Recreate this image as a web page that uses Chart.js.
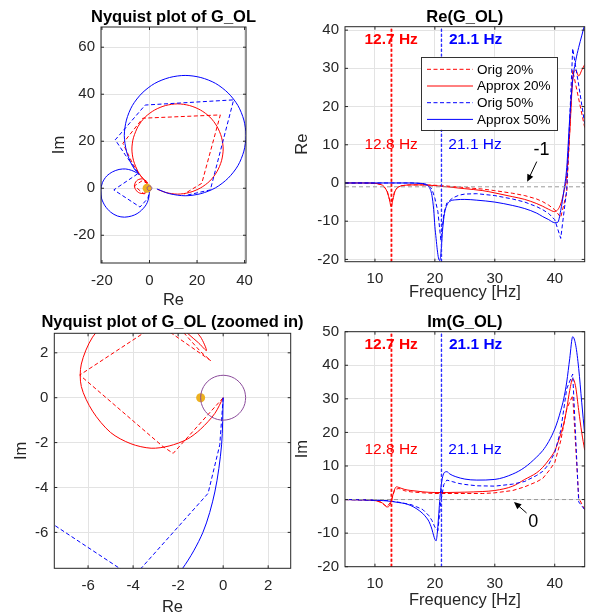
<!DOCTYPE html>
<html lang="en">
<head>
<meta charset="UTF-8">
<title>G_OL - Nyquist, Re, Im</title>
<script src="https://cdn.jsdelivr.net/npm/chart.js"></script>
<style>
  html, body { margin: 0; padding: 0; background: #fff; overflow: hidden; }
  #fig { position: relative; width: 595px; height: 614px; }
  #fig canvas { position: absolute; }
</style>
</head>
<body>
<div id="fig">
  <canvas id="nyq" width="297" height="310" style="left:0;top:0"></canvas>
  <canvas id="re" width="305" height="310" style="left:290px;top:0"></canvas>
  <canvas id="nyqZoom" width="312" height="309" style="left:0;top:305px"></canvas>
  <canvas id="im" width="305" height="309" style="left:290px;top:305px"></canvas>
</div>
<script>
// ---- axis limits and ticks ----
const nyqXLim = [-20.4, 40.6], nyqYLim = [-31.8, 68.6];
const zoomXLim = [-7.5, 3], zoomYLim = [-7.6, 2.87];
const freqLim = [5, 45];
const reLim = [-20.6, 40.9];
const imLim = [-20, 50];

const nyqXTicks = [-20, 0, 20, 40];
const nyqYTicks = [-20, 0, 20, 40, 60];
const zoomXTicks = [-6, -4, -2, 0, 2];
const zoomYTicks = [-6, -4, -2, 0, 2];
const freqTicks = [10, 20, 30, 40];
const reTicks = [-20, -10, 0, 10, 20, 30, 40];
const imTicks = [-20, -10, 0, 10, 20, 30, 40, 50];

const seriesNames = ['Orig 20%', 'Approx 20%', 'Orig 50%', 'Approx 50%'];

// resonance markers (Hz) and reference levels
const resOrig = [12.7, 21.1];
const resApprox = [12.8, 21.1];
const refRe = -1;
const refIm = 0;
const critRe = -1, critIm = 0;

// ---- frequency responses ----
const fA20 = [5, 8, 10, 11, 11.5, 12, 12.4, 12.7, 13.0, 13.3, 13.6, 14, 15, 16, 18, 20, 22, 25, 28, 30, 33, 35, 37, 38, 39, 40, 40.5, 41, 41.5, 42, 42.5, 43, 43.5, 44, 44.5, 45];
const reA20 = [0, 0, -0.1, -0.4, -0.9, -2.2, -4.2, -6.2, -4.3, -2.4, -1.5, -1.0, -0.6, -0.5, -0.5, -0.7, -1.0, -1.5, -2.0, -2.6, -3.6, -4.3, -5.4, -6.1, -6.9, -7.5, -7.0, -5.5, -2.5, 2.0, 13.0, 27.0, 29.5, 28.0, 29.5, 31.0];
const imA20 = [0, -0.1, -0.3, -0.8, -1.4, -2.2, -1.9, -0.6, 1.4, 3.1, 3.8, 3.6, 3.0, 2.7, 2.3, 2.1, 2.1, 2.2, 2.4, 2.7, 4.0, 6.0, 8.0, 9.6, 11.8, 14.5, 16.8, 19.5, 22.5, 27.0, 32.5, 36.0, 33.5, 26.5, 20.0, 14.7];

const fO20 = [5, 8, 10, 11, 12, 12.7, 13.3, 14, 15, 16, 18, 20, 22, 25, 28, 30, 33, 35, 37, 38, 39, 40, 41, 42, 43, 44, 45];
const reO20 = [0, 0, -0.1, -0.4, -1.8, -6.0, -2.0, -0.8, -0.6, -0.5, -0.5, -0.6, -0.8, -1.2, -1.6, -2.0, -2.7, -3.3, -4.2, -4.9, -5.8, -7.0, -9.0, -2.5, 29.5, 22.0, 14.5];
const imO20 = [0, -0.1, -0.3, -0.8, -2.2, -0.5, 3.0, 3.3, 2.6, 2.3, 2.0, 1.8, 1.8, 1.8, 1.8, 2.0, 2.7, 3.8, 5.3, 6.3, 8.5, 11.0, 17.5, 27.0, 31.0, 0.5, -3.0];

const fA50 = [5, 8, 10, 12, 14, 15, 16, 17, 18, 18.5, 19, 19.5, 19.8, 20.0, 20.2, 20.4, 20.6, 20.8, 21.0, 21.3, 21.6, 22.0, 22.5, 23.5, 25, 27, 30, 33, 35, 37, 38, 39, 40, 40.5, 41, 41.5, 42, 42.5, 43, 43.5, 44, 44.5, 45];
const reA50 = [0, 0, 0, 0, 0, 0, 0, -0.05, -0.15, -0.3, -1.0, -3.2, -7.0, -11.4, -14.5, -17.5, -19.6, -20.3, -18.5, -12.0, -8.0, -5.8, -4.8, -4.4, -4.3, -4.5, -5.0, -5.9, -6.7, -7.9, -8.8, -9.6, -10.4, -10.3, -7.2, -2.3, 4.0, 17.0, 27.0, 32.0, 35.5, 38.5, 41.5];
const imA50 = [0, -0.1, -0.2, -0.4, -0.9, -1.2, -1.8, -2.8, -4.2, -5.2, -6.5, -8.8, -10.8, -11.8, -12.3, -10.0, -5.5, -0.5, 3.5, 6.8, 8.1, 8.3, 7.6, 6.8, 6.1, 5.8, 6.0, 7.6, 9.6, 12.7, 14.6, 17.3, 21.0, 23.5, 26.5, 30.0, 35.0, 42.0, 48.5, 46.0, 39.0, 29.0, 19.5];

const fO50 = [5, 8, 10, 12, 14, 16, 17, 18, 19, 19.5, 20, 20.5, 21, 21.5, 22, 23, 24, 25, 27, 30, 33, 35, 37, 38, 39, 40, 41, 42, 43, 44, 45];
const reO50 = [0, 0, 0, 0, 0, 0, -0.05, -0.2, -0.8, -1.6, -4.0, -7.5, -15.0, -8.0, -5.2, -3.9, -3.2, -2.9, -2.8, -3.3, -4.2, -5.0, -6.2, -7.0, -8.0, -9.6, -14.5, -1.8, 35.2, 25.6, 15.5];
const imO50 = [0, -0.1, -0.2, -0.3, -0.8, -1.5, -2.2, -3.0, -4.8, -6.2, -8.2, -9.3, -0.5, 4.5, 5.8, 5.3, 4.8, 4.5, 4.1, 4.0, 4.6, 5.4, 7.2, 8.4, 10.5, 14.0, 20.6, 33.0, 37.4, -0.7, -3.0];

// ---- Nyquist loci (Re, Im) ----
const nyqA20Re = [0, -0.37, -1.0, -1.6, -2.4, -3.2, -4.1, -5.0, -5.8, -6.3, -6.3, -5.8, -5.0, -4.0, -3.0, -2.1, -1.4, -1.0, -0.74, -1.1, -1.56, -2.2, -2.9, -3.9, -4.8, -5.8, -6.7, -7.2, -7.4, -7.2, -6.7, -4.8, -1.8, 2.2, 6.8, 11.8, 16.8, 21.4, 25.4, 28.4, 30.3, 31.0, 30.3, 28.4, 25.4, 21.4, 16.8, 11.8, 6.8, 3.5];
const nyqA20Im = [0, -0.7, -1.4, -1.85, -2.15, -2.25, -2.05, -1.55, -0.6, 0.5, 1.5, 2.7, 3.5, 3.9, 4.0, 3.6, 3.1, 2.7, 2.1, 2.45, 2.85, 3.5, 4.4, 5.6, 7.1, 9.2, 11.7, 14.2, 16.7, 19.2, 21.7, 26.3, 30.3, 33.3, 35.2, 35.9, 35.2, 33.3, 30.3, 26.3, 21.7, 16.7, 11.7, 7.1, 3.1, 0.1, -1.8, -2.5, -1.8, -0.5];

const nyqA50Re = [0, -0.07, -0.37, -0.9, -1.8, -3.3, -5.2, -7.5, -10.5, -13.5, -16.3, -18.7, -20.2, -20.5, -19.8, -18.0, -15.5, -12.8, -10.0, -7.5, -5.6, -4.5, -4.3, -4.9, -6.0, -7.2, -8.2, -9.7, -10.6, -9.7, -7.2, -3.1, 2.2, 8.4, 15.0, 21.6, 27.8, 33.1, 37.2, 39.7, 40.6, 39.7, 37.2, 33.1, 27.8, 21.6, 15.0, 8.4, 3.1];
const nyqA50Im = [0, -2.1, -4.2, -6.0, -7.6, -9.3, -10.8, -11.8, -12.3, -11.8, -10.2, -7.5, -4.2, -0.8, 2.4, 5.2, 7.0, 8.0, 8.2, 7.6, 6.7, 6.0, 5.7, 6.6, 7.7, 9.6, 11.6, 15.8, 22.4, 29.0, 35.2, 40.5, 44.6, 47.1, 48.0, 47.1, 44.6, 40.5, 35.2, 29.0, 22.4, 15.8, 9.6, 4.3, 0.2, -2.3, -3.2, -2.3, -0.3];

const nyqO20Re = [0, -2.22, -2.67, -6.37, -2.9, -0.55, -1.0, -2.2, -4.5, -7.0, -11.2, -2.8, 29.8, 22.0, 14.5];
const nyqO20Im = [0, -2.48, -2.18, 1.01, 3.3, 1.65, 2.05, 3.4, 6.2, 10.3, 19.1, 29.8, 31.2, 2.1, -2.5];

const nyqO50Re = [0, -0.15, -0.67, -4.0, -15.0, -4.6, -10.2, -14.4, -1.8, 35.4, 25.6, 15.5];
const nyqO50Im = [0, -2.1, -4.26, -8.0, -0.7, 6.4, 14.2, 20.6, 35.4, 37.6, -0.7, -3.0];

// unit circle
const ucRe = [1, 0.966, 0.866, 0.707, 0.5, 0.259, 0, -0.259, -0.5, -0.707, -0.866, -0.966, -1, -0.966, -0.866, -0.707, -0.5, -0.259, 0, 0.259, 0.5, 0.707, 0.866, 0.966, 1];
const ucIm = [0, 0.259, 0.5, 0.707, 0.866, 0.966, 1, 0.966, 0.866, 0.707, 0.5, 0.259, 0, -0.259, -0.5, -0.707, -0.866, -0.966, -1, -0.966, -0.866, -0.707, -0.5, -0.259, 0];

// ---- styling ----
const RED = '#ff0000', BLUE = '#0000ff', PURPLE = '#8a4a9a', ORANGE = '#EDB120';
const AXCOL = '#262626', GRIDCOL = '#e3e3e3';
const FONT = "'Liberation Sans', Arial, Helvetica, sans-serif";
Chart.defaults.font.family = FONT;
Chart.defaults.color = AXCOL;

function pairs(xs, ys) {
  return xs.map((v, i) => ({ x: v, y: ys[i] }));
}

function line(data, color, dashed, label, order) {
  return {
    label: label || '', inLegend: !!label,
    data: data, showLine: true, pointRadius: 0,
    borderColor: color, borderWidth: 1, borderDash: dashed ? [4, 2.5] : [],
    tension: 0, fill: false, order: order
  };
}

// smooth curve for the fitted responses
function smooth(ds, monotone) {
  if (monotone) ds.cubicInterpolationMode = 'monotone';
  else ds.tension = 0.3;
  return ds;
}

function nyquistSets() {
  return [
    smooth(line(pairs(ucRe, ucIm), PURPLE, false, null, 1), false),
    { data: [{ x: critRe, y: critIm }], showLine: false, pointRadius: 4.5,
      pointBackgroundColor: ORANGE, pointBorderWidth: 0, order: 2 },
    smooth(line(pairs(nyqA50Re, nyqA50Im), BLUE, false, null, 3), false),
    line(pairs(nyqO50Re, nyqO50Im), BLUE, true, null, 4),
    smooth(line(pairs(nyqA20Re, nyqA20Im), RED, false, null, 5), false),
    line(pairs(nyqO20Re, nyqO20Im), RED, true, null, 6)
  ];
}

function marker(f, lim, color) {
  const s = line([{ x: f, y: lim[0] }, { x: f, y: lim[1] }], color, false, null, 0);
  s.borderDash = [3, 2];
  s.borderWidth = 1.2;
  return s;
}

function freqSets(ys, lim, ref) {
  const refLine = line([{ x: freqLim[0], y: ref }, { x: freqLim[1], y: ref }], '#9a9a9a', false, null, 2);
  refLine.borderDash = [4, 3];
  return [
    line(pairs(fO20, ys[0]), RED, true, seriesNames[0], 6),
    smooth(line(pairs(fA20, ys[1]), RED, false, seriesNames[1], 5), true),
    line(pairs(fO50, ys[2]), BLUE, true, seriesNames[2], 4),
    smooth(line(pairs(fA50, ys[3]), BLUE, false, seriesNames[3], 3), true),
    refLine,
    marker(resOrig[0], lim, RED),
    marker(resApprox[0], lim, RED),
    marker(resOrig[1], lim, '#2b2bff'),
    marker(resApprox[1], lim, '#2b2bff')
  ];
}

// axes box, inner ticks, title, legend, text notes and arrows
const figurePlugin = {
  id: 'figure',
  afterDatasetsDraw(chart, args, opts) {
    const { ctx, chartArea: a, scales } = chart;
    const xs = scales.x, ys = scales.y;
    ctx.save();

    if (opts.legend) {
      const L = opts.legend;
      const lx = a.left + L.dx, ly = a.top + L.dy;
      ctx.fillStyle = '#fff';
      ctx.fillRect(lx, ly, L.w, L.h);
      ctx.strokeStyle = '#333';
      ctx.lineWidth = 1;
      ctx.strokeRect(Math.round(lx) + 0.5, Math.round(ly) + 0.5, L.w, L.h);
      const items = chart.data.datasets.filter(d => d.inLegend);
      ctx.font = '13.5px ' + FONT;
      ctx.textAlign = 'left';
      ctx.textBaseline = 'middle';
      items.forEach((d, i) => {
        const yy = ly + L.row0 + i * L.rowGap;
        ctx.strokeStyle = d.borderColor;
        ctx.lineWidth = d.borderWidth;
        ctx.setLineDash(d.borderDash);
        ctx.beginPath();
        ctx.moveTo(lx + 6, yy);
        ctx.lineTo(lx + 52, yy);
        ctx.stroke();
        ctx.setLineDash([]);
        ctx.fillStyle = '#000';
        ctx.fillText(d.label, lx + 56, yy + 0.5);
      });
    }

    (opts.notes || []).forEach(n => {
      ctx.font = (n.bold ? 'bold ' : '') + (n.size || 15.5) + 'px ' + FONT;
      ctx.fillStyle = n.color;
      ctx.textAlign = 'center';
      ctx.textBaseline = 'middle';
      ctx.fillText(n.text, xs.getPixelForValue(n.x), ys.getPixelForValue(n.y));
    });

    (opts.arrows || []).forEach(r => {
      const x1 = xs.getPixelForValue(r.from[0]), y1 = ys.getPixelForValue(r.from[1]);
      const x2 = xs.getPixelForValue(r.to[0]), y2 = ys.getPixelForValue(r.to[1]);
      const ang = Math.atan2(y2 - y1, x2 - x1);
      const hl = 8, hw = 0.42;
      ctx.strokeStyle = '#000';
      ctx.fillStyle = '#000';
      ctx.lineWidth = 1;
      ctx.beginPath();
      ctx.moveTo(x1, y1);
      ctx.lineTo(x2 - Math.cos(ang) * hl * 0.8, y2 - Math.sin(ang) * hl * 0.8);
      ctx.stroke();
      ctx.beginPath();
      ctx.moveTo(x2, y2);
      ctx.lineTo(x2 - hl * Math.cos(ang - hw), y2 - hl * Math.sin(ang - hw));
      ctx.lineTo(x2 - hl * Math.cos(ang + hw), y2 - hl * Math.sin(ang + hw));
      ctx.closePath();
      ctx.fill();
    });

    // box and inward ticks on all four sides
    ctx.strokeStyle = AXCOL;
    ctx.lineWidth = 1;
    ctx.strokeRect(a.left, a.top, a.right - a.left, a.bottom - a.top);
    ctx.beginPath();
    xs.ticks.forEach(t => {
      const px = xs.getPixelForValue(t.value);
      ctx.moveTo(px, a.bottom); ctx.lineTo(px, a.bottom - 3);
      ctx.moveTo(px, a.top); ctx.lineTo(px, a.top + 3);
    });
    ys.ticks.forEach(t => {
      const py = ys.getPixelForValue(t.value);
      ctx.moveTo(a.left, py); ctx.lineTo(a.left + 3, py);
      ctx.moveTo(a.right, py); ctx.lineTo(a.right - 3, py);
    });
    ctx.stroke();

    ctx.font = 'bold 16.5px ' + FONT;
    ctx.fillStyle = '#000';
    ctx.textAlign = 'center';
    ctx.textBaseline = 'middle';
    ctx.fillText(opts.title, (a.left + a.right) / 2, a.top + opts.titleDy);
    ctx.restore();
  }
};

function axis(lim, ticks, size, title, titlePad, isY) {
  return {
    type: 'linear',
    min: lim[0], max: lim[1],
    afterBuildTicks: s => { s.ticks = ticks.map(v => ({ value: v })); },
    afterFit: s => { if (isY) { s.width = size; } else { s.height = size; } },
    grid: { color: GRIDCOL, lineWidth: 1, drawTicks: false },
    border: { display: false },
    ticks: { font: { size: 15 }, color: AXCOL, padding: isY ? 6 : 8.5, maxRotation: 0, autoSkip: false },
    title: { display: true, text: title, font: { size: 16.5 }, color: AXCOL,
             padding: isY ? { top: titlePad, bottom: 0 } : { top: 0, bottom: titlePad } }
  };
}

function build(id, datasets, lay, xAxis, yAxis, figure) {
  return new Chart(document.getElementById(id), {
    type: 'scatter',
    data: { datasets: datasets },
    options: {
      responsive: false,
      animation: false,
      devicePixelRatio: 1,
      layout: { padding: { top: lay.top, right: lay.right, bottom: 0, left: 0 } },
      plugins: { legend: { display: false }, tooltip: { enabled: false }, figure: figure },
      scales: { x: xAxis, y: yAxis }
    },
    plugins: [figurePlugin]
  });
}

// Nyquist plot, full view
build('nyq', nyquistSets(), { top: 27, right: 51 },
  axis(nyqXLim, nyqXTicks, 47, 'Re', 0, false),
  axis(nyqYLim, nyqYTicks, 101, 'Im', 50, true),
  { title: 'Nyquist plot of G_OL', titleDy: -10 });

// real part vs frequency
build('re', freqSets([reO20, reA20, reO50, reA50], reLim, refRe), { top: 26.7, right: 10.3 },
  axis(freqLim, freqTicks, 48.3, 'Frequency [Hz]', 8, false),
  axis(reLim, reTicks, 55, 'Re', 3, true),
  {
    title: 'Re(G_OL)', titleDy: -9.7,
    legend: { dx: 76, dy: 30, w: 136, h: 73, row0: 12.6, rowGap: 16.7 },
    notes: [
      { x: resOrig[0], y: 37.4, text: resOrig[0] + ' Hz', color: RED, bold: true },
      { x: resOrig[1] + 5.7, y: 37.4, text: resOrig[1] + ' Hz', color: BLUE, bold: true },
      { x: resApprox[0] - 0.1, y: 10, text: resApprox[0] + ' Hz', color: RED },
      { x: resApprox[1] + 5.6, y: 10, text: resApprox[1] + ' Hz', color: BLUE },
      { x: 37.8, y: 8.6, text: String(refRe), color: '#000', size: 18 }
    ],
    arrows: [{ from: [37.0, 5.6], to: [35.4, 0.3] }]
  });

// Nyquist plot, zoomed around the critical point
build('nyqZoom', nyquistSets(), { top: 28.3, right: 21.3 },
  axis(zoomXLim, zoomXTicks, 45.7, 'Re', -3, false),
  axis(zoomYLim, zoomYTicks, 54.3, 'Im', 12, true),
  { title: 'Nyquist plot of G_OL (zoomed in)', titleDy: -11 });

// imaginary part vs frequency
build('im', freqSets([imO20, imA20, imO50, imA50], imLim, refIm), { top: 26.7, right: 10.3 },
  axis(freqLim, freqTicks, 47.3, 'Frequency [Hz]', 4, false),
  axis(imLim, imTicks, 55, 'Im', 3, true),
  {
    title: 'Im(G_OL)', titleDy: -9,
    notes: [
      { x: resOrig[0], y: 46, text: resOrig[0] + ' Hz', color: RED, bold: true },
      { x: resOrig[1] + 5.7, y: 46, text: resOrig[1] + ' Hz', color: BLUE, bold: true },
      { x: resApprox[0] - 0.1, y: 14.8, text: resApprox[0] + ' Hz', color: RED },
      { x: resApprox[1] + 5.6, y: 14.8, text: resApprox[1] + ' Hz', color: BLUE },
      { x: 36.4, y: -6.6, text: String(refIm), color: '#000', size: 18 }
    ],
    arrows: [{ from: [35.3, -4.0], to: [33.2, -0.7] }]
  });
</script>
</body>
</html>
